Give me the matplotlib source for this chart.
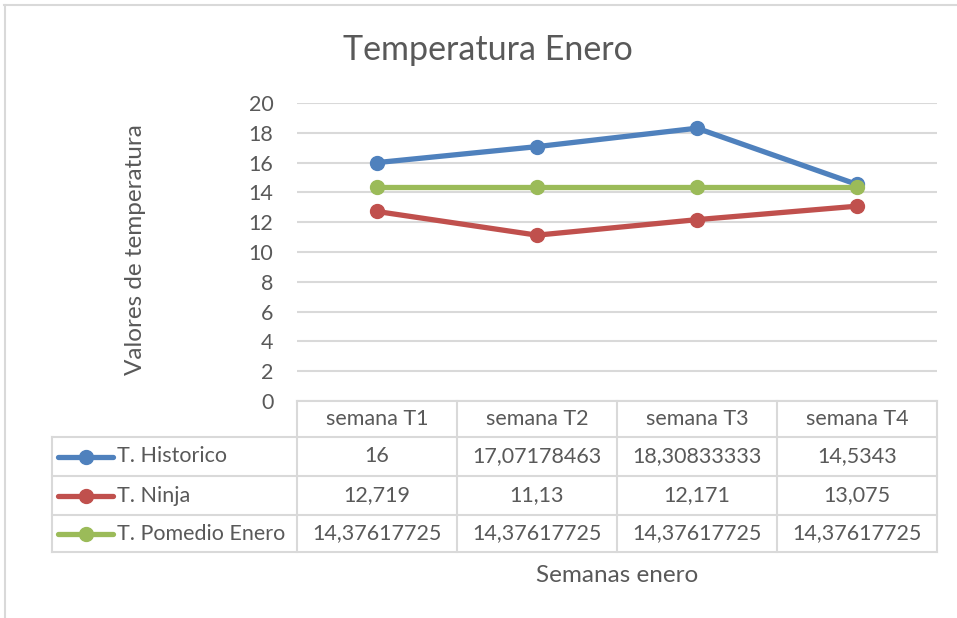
import matplotlib.pyplot as plt
from matplotlib.lines import Line2D

# data
categories = ["semana T1", "semana T2", "semana T3", "semana T4"]
series_names = ["T. Historico", "T. Ninja", "T. Pomedio Enero"]
historico = [16, 17.07178463, 18.30833333, 14.5343]
ninja = [12.719, 11.13, 12.171, 13.075]
promedio = [14.37617725, 14.37617725, 14.37617725, 14.37617725]
table_text = [
    ["16", "17,07178463", "18,30833333", "14,5343"],
    ["12,719", "11,13", "12,171", "13,075"],
    ["14,37617725", "14,37617725", "14,37617725", "14,37617725"],
]
yticks = list(range(0, 21, 2))

colors = ["#4F81BD", "#C0504D", "#9BBB59"]
txt = "#595959"
grid = "#D9D9D9"

W, H = 957, 618
plt.rcParams["font.family"] = ["Lato", "DejaVu Sans"]

fig = plt.figure(figsize=(W / 100, H / 100), dpi=100)


def fx(px):
    return px / W


def fy(py):
    return 1 - py / H


def hline(y, x0, x1, c=grid, lw=1.5):
    fig.add_artist(Line2D([fx(x0), fx(x1)], [fy(y), fy(y)], color=c, lw=lw))


def vline(x, y0, y1, c=grid, lw=1.5):
    fig.add_artist(Line2D([fx(x), fx(x)], [fy(y0), fy(y1)], color=c, lw=lw))


# plot area
x_left, x_right, y_top, y_bot = 297, 937, 103, 401
ax = fig.add_axes([fx(x_left), fy(y_bot), fx(x_right - x_left), (y_bot - y_top) / H])
ax.set_xlim(-0.5, len(categories) - 0.5)
ax.set_ylim(0, 20)
ax.set_yticks(yticks)
ax.set_xticks([])
for s in ax.spines.values():
    s.set_visible(False)
ax.tick_params(axis="y", length=0, pad=17, labelsize=15.5, labelcolor=txt)
ax.yaxis.grid(True, color=grid, lw=1.5)
ax.set_axisbelow(True)

xs = range(len(categories))
for vals, c in zip([historico, ninja, promedio], colors):
    ax.plot(xs, vals, color=c, lw=3.8, marker="o", ms=10, zorder=3)

# outer chart border
hline(5, 4, W)
vline(5, 5, H)

# title and axis labels
fig.text(fx(488), fy(50), "Temperatura Enero", ha="center", va="center",
         fontsize=24.5, color=txt)
fig.text(fx(135), fy(250), "Valores de temperatura", ha="center", va="center",
         rotation=90, fontsize=17.5, color=txt)
fig.text(fx(617), fy(575), "Semanas enero", ha="center", va="center",
         fontsize=17.5, color=txt)

# data table
rows = [401, 437, 476, 515, 552]
cols = [297, 457, 617, 777, 937]
tab_left = 52
hline(rows[0], cols[0], cols[-1])
for y in rows[1:]:
    hline(y, tab_left, cols[-1])
for x in cols:
    vline(x, rows[0], rows[-1])
vline(tab_left, rows[1], rows[-1])

for j, cat in enumerate(categories):
    cx = (cols[j] + cols[j + 1]) / 2
    fig.text(fx(cx), fy((rows[0] + rows[1]) / 2), cat, ha="center", va="center",
             fontsize=15.5, color=txt)

for i, name in enumerate(series_names):
    cy = (rows[i + 1] + rows[i + 2]) / 2
    fig.add_artist(Line2D([fx(58), fx(113)], [fy(cy), fy(cy)], color=colors[i],
                          lw=3.8, solid_capstyle="round"))
    fig.add_artist(Line2D([fx(86)], [fy(cy)], color=colors[i], marker="o", ms=10))
    fig.text(fx(117), fy(cy), name, ha="left", va="center", fontsize=15.5, color=txt)
    for j in range(len(categories)):
        cx = (cols[j] + cols[j + 1]) / 2
        fig.text(fx(cx), fy(cy), table_text[i][j], ha="center", va="center",
                 fontsize=15.5, color=txt)

fig.savefig("out.png", dpi=100, facecolor="white")
